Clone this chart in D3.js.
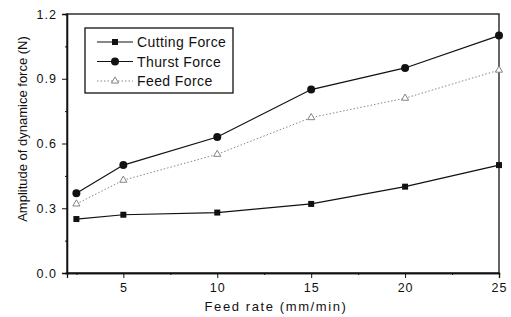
<!DOCTYPE html>
<html><head><meta charset="utf-8">
<script src="https://cdn.jsdelivr.net/npm/d3@7"></script>
<style>body{margin:0;background:#fff}svg{display:block}text{font-family:"Liberation Sans",Arial,sans-serif;fill:#111}</style>
</head><body><div id="c"></div>
<script>
const feedRate = [2.5, 5, 10, 15, 20, 25];
const cuttingForce = [0.25, 0.27, 0.28, 0.32, 0.40, 0.50];
const thurstForce = [0.37, 0.50, 0.63, 0.85, 0.95, 1.10];
const feedForce = [0.32, 0.43, 0.55, 0.72, 0.81, 0.94];
const xTicks = [5, 10, 15, 20, 25];
const yTicks = [0.0, 0.3, 0.6, 0.9, 1.2];
const seriesNames = ["Cutting Force", "Thurst Force", "Feed Force"];

const W = 511, H = 317;
const m = {l: 67, r: 12, t: 14, b: 44};
const svg = d3.select("#c").append("svg").attr("width", W).attr("height", H);
const x = d3.scaleLinear().domain([2, 25]).range([m.l, W - m.r]);
const y = d3.scaleLinear().domain([0, 1.2]).range([H - m.b, m.t]);

// frame
svg.append("rect").attr("x", m.l).attr("y", m.t).attr("width", W - m.r - m.l).attr("height", H - m.b - m.t)
  .attr("fill", "none").attr("stroke", "#111").attr("stroke-width", 1.3);

svg.append("g").attr("transform", `translate(0,${H - m.b})`)
  .call(d3.axisBottom(x).tickValues(xTicks).tickSize(5).tickPadding(5).tickFormat(d3.format("d")));
svg.append("g").attr("transform", `translate(0,${H - m.b})`)
  .call(d3.axisBottom(x).tickValues([2.5, 7.5, 12.5, 17.5, 22.5]).tickSize(2).tickFormat(""));
svg.append("g").attr("transform", `translate(${m.l},0)`)
  .call(d3.axisLeft(y).tickValues(yTicks).tickSize(5).tickPadding(5).tickFormat(d3.format(".1f")));
svg.append("g").attr("transform", `translate(${m.l},0)`)
  .call(d3.axisLeft(y).tickValues([0.15, 0.45, 0.75, 1.05]).tickSize(2).tickFormat(""));
svg.selectAll(".domain").attr("stroke", "#111").attr("stroke-width", 1.3);
svg.selectAll(".tick line").attr("stroke", "#111");
svg.selectAll(".tick text").style("font-size", "12.5px").style("letter-spacing", "1px").attr("fill", "#111");

svg.append("text").attr("x", 276).attr("y", 311).attr("text-anchor", "middle").style("font-size", "13px")
  .style("letter-spacing", "1.6px").text("Feed rate (mm/min)");
svg.append("text").attr("transform", "translate(27,129) rotate(-90)").attr("text-anchor", "middle").style("font-size", "13px")
  .text("Amplitude of dynamice force (N)");

const line = d3.line().x((d, i) => x(feedRate[i])).y(d => y(d));
svg.append("path").datum(cuttingForce).attr("d", line).attr("fill", "none").attr("stroke", "#111").attr("stroke-width", 1.2);
svg.append("path").datum(thurstForce).attr("d", line).attr("fill", "none").attr("stroke", "#111").attr("stroke-width", 1.2);
svg.append("path").datum(feedForce).attr("d", line).attr("fill", "none").attr("stroke", "#888").attr("stroke-width", 1).attr("stroke-dasharray", "1.5,2");

const sq = d3.symbol().type(d3.symbolSquare).size(36);
const ci = d3.symbol().type(d3.symbolCircle).size(50);
const tr = d3.symbol().type(d3.symbolTriangle).size(22);
svg.selectAll(".cm").data(cuttingForce).join("path").attr("d", sq)
  .attr("transform", (d, i) => `translate(${x(feedRate[i])},${y(d)})`).attr("fill", "#111");
svg.selectAll(".tm").data(thurstForce).join("path").attr("d", ci)
  .attr("transform", (d, i) => `translate(${x(feedRate[i])},${y(d)})`).attr("fill", "#111");
svg.selectAll(".fm").data(feedForce).join("path").attr("d", tr)
  .attr("transform", (d, i) => `translate(${x(feedRate[i])},${y(d)})`).attr("fill", "#fff").attr("stroke", "#777").attr("stroke-width", 0.9);

// legend
const lg = svg.append("g");
lg.append("rect").attr("x", 85).attr("y", 28).attr("width", 148).attr("height", 65)
  .attr("fill", "#fff").attr("stroke", "#111").attr("stroke-width", 1.3);
const syms = [sq, ci, tr];
seriesNames.forEach((n, i) => {
  const yy = 42 + i * 19.5;
  const g = lg.append("g");
  g.append("line").attr("x1", 97).attr("x2", 133).attr("y1", yy).attr("y2", yy)
    .attr("stroke", i === 2 ? "#888" : "#111").attr("stroke-width", i === 2 ? 1 : 1.2)
    .attr("stroke-dasharray", i === 2 ? "1.5,2" : null);
  const s = g.append("path").attr("d", syms[i]).attr("transform", `translate(115,${yy})`);
  if (i === 2) s.attr("fill", "#fff").attr("stroke", "#777").attr("stroke-width", 0.9);
  else s.attr("fill", "#111");
  g.append("text").attr("x", 137).attr("y", yy + 5).style("font-size", "14px").style("letter-spacing", "0.4px").text(n);
});
</script></body></html>
